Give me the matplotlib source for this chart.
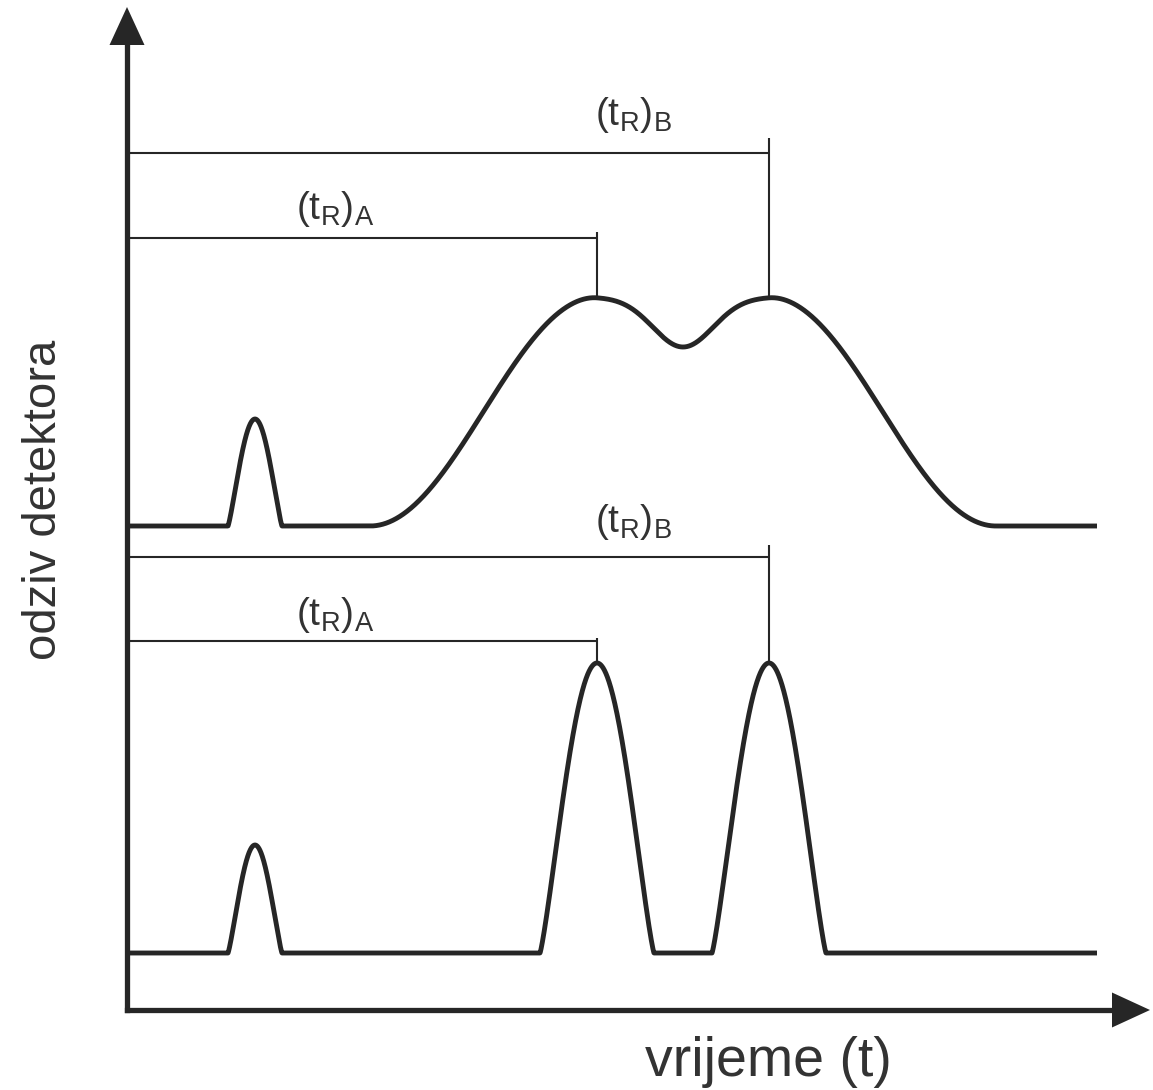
import numpy as np
import matplotlib
matplotlib.use("Agg")
import matplotlib.pyplot as plt
from matplotlib.patches import Polygon

plt.rcParams["font.family"] = ["Liberation Sans", "DejaVu Sans"]
plt.rcParams["mathtext.fontset"] = "custom"
plt.rcParams["mathtext.rm"] = "Liberation Sans"
plt.rcParams["mathtext.it"] = "Liberation Sans"
plt.rcParams["mathtext.default"] = "regular"

# ---- data (time / detector response, arbitrary units) ----
t_dead = 128          # unretained (dead-time) peak
t_A = 470             # retention time of A
t_B = 642             # retention time of B
t_end = 970           # end of the recorded trace

# poorly resolved chromatogram (top)
top_baseline = 484
top_dead_height = 107
top_peak_height = 229
top_shoulder_width = 227
top_dip_depth = 50
top_dip_sigma = 30

# well resolved chromatogram (bottom)
bot_baseline = 57
bot_dead_height = 108
bot_peak_height = 290
bot_peak_halfwidth = 57

dead_halfwidth = 27
peak_sharpness = 0.6   # exponent applied to the raised-cosine profile

# retention-time bracket levels: (label, retention time, bar level, tick top)
top_brackets = [("A", t_A, 772, 778), ("B", t_B, 857, 872)]
bot_brackets = [("A", t_A, 369, 372), ("B", t_B, 453, 465)]

x_label = "vrijeme (t)"
y_label = "odziv detektora"

INK = "#262626"


def bell(t, center, halfwidth, power=1.0):
    """Raised-cosine peak, 1 at center, 0 beyond +/- halfwidth."""
    d = np.clip(np.abs(t - center) / halfwidth, 0, 1)
    return (0.5 * (1 + np.cos(np.pi * d))) ** power


t = np.linspace(0, t_end, 6000)

# top trace: dead peak + broad merged band with a shallow valley
envelope = np.where(t < t_A, bell(t, t_A, top_shoulder_width),
                    np.where(t > t_B, bell(t, t_B, top_shoulder_width), 1.0))
valley = np.exp(-0.5 * ((t - (t_A + t_B) / 2) / top_dip_sigma) ** 2)
top_trace = (top_baseline
             + top_dead_height * bell(t, t_dead, dead_halfwidth, peak_sharpness)
             + top_peak_height * envelope
             - top_dip_depth * valley)

# bottom trace: dead peak + two separated peaks
bot_trace = (bot_baseline
             + bot_dead_height * bell(t, t_dead, dead_halfwidth, peak_sharpness)
             + bot_peak_height * bell(t, t_A, bot_peak_halfwidth, peak_sharpness)
             + bot_peak_height * bell(t, t_B, bot_peak_halfwidth, peak_sharpness))

fig = plt.figure(figsize=(11.53, 10.90), dpi=100)
ax = fig.add_axes([0, 0, 1, 1])
ax.set_xlim(-127, 1026)
ax.set_ylim(-80, 1010)
ax.axis("off")

ax.plot(t, top_trace, color=INK, lw=3.5, solid_capstyle="butt", solid_joinstyle="round")
ax.plot(t, bot_trace, color=INK, lw=3.5, solid_capstyle="butt", solid_joinstyle="round")

# axes with arrow heads
ax.plot([0, 0], [0, 970], color=INK, lw=3.8, solid_capstyle="projecting")
ax.plot([0, 990], [0, 0], color=INK, lw=3.8, solid_capstyle="projecting")
ax.add_patch(Polygon([[0, 1003], [-17.5, 965], [17.5, 965]], closed=True,
                     color=INK, lw=0))
ax.add_patch(Polygon([[1023, 0], [985, 17.5], [985, -17.5]], closed=True,
                     color=INK, lw=0))


def brackets(items, baseline, peak_height):
    for name, tr, level, tick_top in items:
        apex = baseline + peak_height
        ax.plot([0, tr], [level, level], color=INK, lw=1.5, solid_capstyle="butt")
        ax.plot([tr, tr], [tick_top, apex], color=INK, lw=1.5, solid_capstyle="butt")


brackets(top_brackets, top_baseline, top_peak_height)
brackets(bot_brackets, bot_baseline, bot_peak_height)

label_kw = dict(fontsize=28, color="#333333", ha="center", va="center")
ax.text(208, 801, r"$\mathregular{(t_R)_A}$", **label_kw)
ax.text(506, 895, r"$\mathregular{(t_R)_B}$", **label_kw)
ax.text(208, 395, r"$\mathregular{(t_R)_A}$", **label_kw)
ax.text(506, 488, r"$\mathregular{(t_R)_B}$", **label_kw)

ax.text(641, -52, x_label, fontsize=40, color="#333333", ha="center", va="center")
ax.text(-83, 510, y_label, fontsize=34, color="#333333", ha="center", va="center",
        rotation=90)

fig.savefig("out.png", dpi=100, facecolor="white")
